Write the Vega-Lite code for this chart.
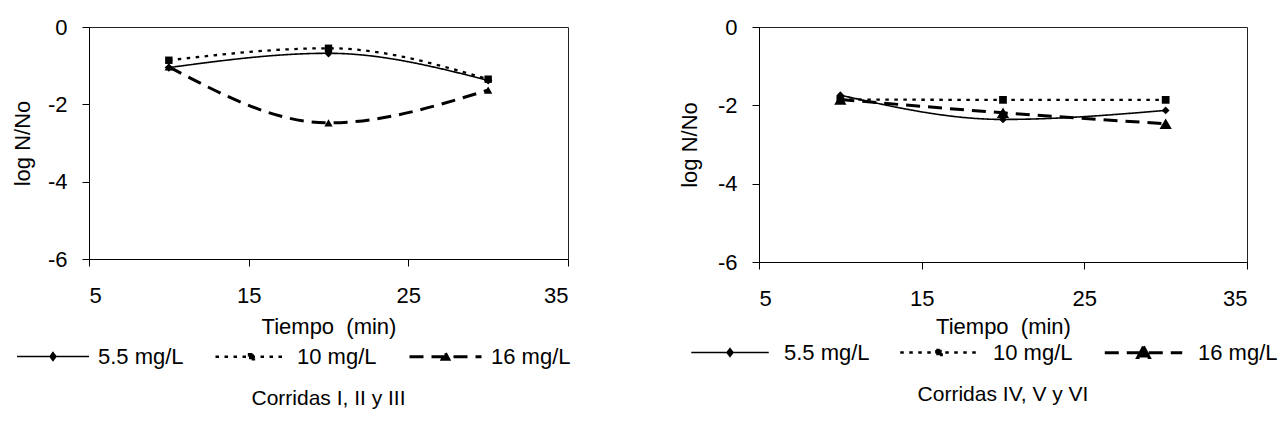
{
  "$schema": "https://vega.github.io/schema/vega-lite/v6.json",
  "padding": {"left": 10, "top": 15, "right": 0, "bottom": 0},
  "background": "white",
  "config": {
    "font": "Liberation Sans",
    "view": {"stroke": "#222", "strokeWidth": 1},
    "axis": {
      "domainColor": "black", "tickColor": "black", "labelColor": "black", "titleColor": "black",
      "labelFont": "Liberation Sans", "titleFont": "Liberation Sans",
      "labelFontSize": 22, "titleFontSize": 22, "titleFontWeight": "normal",
      "grid": false, "tickSize": 7, "domainWidth": 1, "tickWidth": 1,
      "labelExpr": "replace(datum.label, '\u2212', '-')"
    },
    "axisX": {"labelPadding": 19, "titlePadding": 10},
    "axisY": {"labelPadding": 15, "titlePadding": 13},
    "legend": {"labelFont": "Liberation Sans", "labelColor": "black"},
    "title": {"font": "Liberation Sans", "color": "black"}
  },
  "datasets": {
    "d": [
      {"panel": "A", "s": "5.5 mg/L", "t": 10, "v": -1.05},
      {"panel": "A", "s": "5.5 mg/L", "t": 20, "v": -0.68},
      {"panel": "A", "s": "5.5 mg/L", "t": 30, "v": -1.38},
      {"panel": "A", "s": "10 mg/L", "t": 10, "v": -0.86},
      {"panel": "A", "s": "10 mg/L", "t": 20, "v": -0.55},
      {"panel": "A", "s": "10 mg/L", "t": 30, "v": -1.35},
      {"panel": "A", "s": "16 mg/L", "t": 10, "v": -1.03},
      {"panel": "A", "s": "16 mg/L", "t": 20, "v": -2.48},
      {"panel": "A", "s": "16 mg/L", "t": 30, "v": -1.63},
      {"panel": "B", "s": "5.5 mg/L", "t": 10, "v": -1.74},
      {"panel": "B", "s": "5.5 mg/L", "t": 20, "v": -2.36},
      {"panel": "B", "s": "5.5 mg/L", "t": 30, "v": -2.13},
      {"panel": "B", "s": "10 mg/L", "t": 10, "v": -1.85},
      {"panel": "B", "s": "10 mg/L", "t": 20, "v": -1.86},
      {"panel": "B", "s": "10 mg/L", "t": 30, "v": -1.86},
      {"panel": "B", "s": "16 mg/L", "t": 10, "v": -1.85},
      {"panel": "B", "s": "16 mg/L", "t": 20, "v": -2.19},
      {"panel": "B", "s": "16 mg/L", "t": 30, "v": -2.47}
    ]
  },
  "spacing": 105,
  "resolve": {
    "scale": {"x": "independent", "y": "independent", "strokeDash": "independent", "strokeWidth": "independent"},
    "legend": {"strokeDash": "independent"}
  },
  "hconcat": [
    {
      "width": 479,
      "height": 232,
      "data": {"name": "d"},
      "transform": [{"filter": "datum.panel == 'A'"}],
      "title": {"text": "Corridas I, II y III", "orient": "bottom", "anchor": "middle", "fontSize": 21, "fontWeight": "normal", "offset": 20},
      "encoding": {
        "x": {"field": "t", "type": "quantitative", "scale": {"domain": [5, 35], "nice": false, "zero": false}, "axis": {"values": [5, 15, 25, 35], "title": "Tiempo\u00a0\u00a0(min)"}},
        "y": {"field": "v", "type": "quantitative", "scale": {"domain": [-6, 0], "nice": false, "zero": false}, "axis": {"values": [-6, -4, -2, 0], "title": "log N/No"}}
      },
      "layer": [
        {
          "mark": {"type": "line", "interpolate": "monotone", "color": "black"},
          "encoding": {
            "strokeWidth": {"field": "s", "type": "ordinal", "scale": {"domain": ["5.5 mg/L", "10 mg/L", "16 mg/L"], "range": [1.6, 3, 1.6]}, "legend": null},
            "strokeDash": {
              "field": "s", "type": "nominal",
              "scale": {"domain": ["5.5 mg/L", "10 mg/L", "16 mg/L"], "range": [[1, 0], [3.5, 5.5], [14, 8]]},
              "legend": {
                "orient": "none", "direction": "horizontal", "legendX": -73, "legendY": 292, "title": null,
                "symbolSize": 5184, "labelFontSize": 22, "labelOffset": 8, "columnPadding": 26,
                "symbolFillColor": "black", "symbolStrokeColor": "black", "symbolStrokeWidth": 1.6,
                "encode": {"symbols": {"update": {
                  "shape": {"signal": "datum.value == '5.5 mg/L' ? 'M-1,0H1M0,-0.11L0.08,0L0,0.11L-0.08,0Z' : datum.value == '10 mg/L' ? 'M-1,0H1M-0.07,-0.07H0.07V0.07H-0.07Z' : 'M-1,0H1M0,-0.1L0.09,0.07H-0.09Z'"},
                  "size": {"value": 5184},
                  "fill": {"value": "black"}, "fillOpacity": {"value": 1}, "stroke": {"value": "black"}, "opacity": {"value": 1}
                }}}
              }
            }
          }
        },
        {"transform": [{"filter": "datum.s == '5.5 mg/L'"}], "mark": {"type": "point", "filled": true, "color": "black", "opacity": 1, "shape": "diamond", "size": 70}},
        {"transform": [{"filter": "datum.s == '10 mg/L'"}], "mark": {"type": "point", "filled": true, "color": "black", "opacity": 1, "shape": "square", "size": 55}},
        {"transform": [{"filter": "datum.s == '16 mg/L'"}], "mark": {"type": "point", "filled": true, "color": "black", "opacity": 1, "shape": "triangle-up", "size": 70}}
      ]
    },
    {
      "width": 488,
      "height": 235,
      "data": {"name": "d"},
      "transform": [{"filter": "datum.panel == 'B'"}],
      "title": {"text": "Corridas IV, V y VI", "orient": "bottom", "anchor": "middle", "fontSize": 21, "fontWeight": "normal", "offset": 20},
      "encoding": {
        "x": {"field": "t", "type": "quantitative", "scale": {"domain": [5, 35], "nice": false, "zero": false}, "axis": {"values": [5, 15, 25, 35], "title": "Tiempo\u00a0\u00a0(min)", "titlePadding": 7}},
        "y": {"field": "v", "type": "quantitative", "scale": {"domain": [-6, 0], "nice": false, "zero": false}, "axis": {"values": [-6, -4, -2, 0], "title": "log N/No", "titlePadding": 16}}
      },
      "layer": [
        {
          "mark": {"type": "line", "interpolate": "monotone", "color": "black"},
          "encoding": {
            "strokeWidth": {"field": "s", "type": "ordinal", "scale": {"domain": ["5.5 mg/L", "10 mg/L", "16 mg/L"], "range": [1.6, 3, 2.2]}, "legend": null},
            "strokeDash": {
              "field": "s", "type": "nominal",
              "scale": {"domain": ["5.5 mg/L", "10 mg/L", "16 mg/L"], "range": [[1, 0], [3.5, 5.5], [14, 8]]},
              "legend": {
                "orient": "none", "direction": "horizontal", "legendX": -69, "legendY": 285, "title": null,
                "symbolSize": 6000, "labelFontSize": 22, "labelOffset": 14, "columnPadding": 25,
                "symbolFillColor": "black", "symbolStrokeColor": "black", "symbolStrokeWidth": 2,
                "encode": {"symbols": {"update": {
                  "shape": {"signal": "datum.value == '5.5 mg/L' ? 'M-1,0H1M0,-0.1L0.075,0L0,0.1L-0.075,0Z' : datum.value == '10 mg/L' ? 'M-1,0H1M-0.07,-0.07H0.07V0.07H-0.07Z' : 'M-1,0H1M0,-0.16L0.15,0.12H-0.15Z'"},
                  "size": {"value": 6000},
                  "fill": {"value": "black"}, "fillOpacity": {"value": 1}, "stroke": {"value": "black"}, "opacity": {"value": 1}
                }}}
              }
            }
          }
        },
        {"transform": [{"filter": "datum.s == '5.5 mg/L'"}], "mark": {"type": "point", "filled": true, "color": "black", "opacity": 1, "shape": "diamond", "size": 60}},
        {"transform": [{"filter": "datum.s == '10 mg/L'"}], "mark": {"type": "point", "filled": true, "color": "black", "opacity": 1, "shape": "square", "size": 60}},
        {"transform": [{"filter": "datum.s == '16 mg/L'"}], "mark": {"type": "point", "filled": true, "color": "black", "opacity": 1, "shape": "triangle-up", "size": 150}}
      ]
    }
  ]
}
